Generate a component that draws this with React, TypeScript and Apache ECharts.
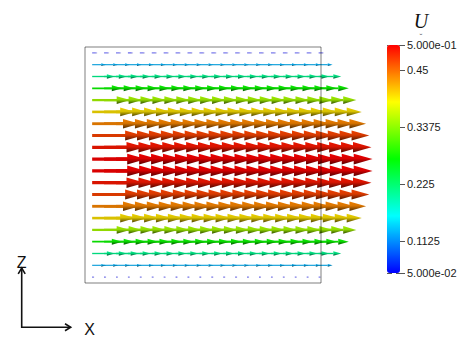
import React, { useEffect, useRef } from "react";
import * as echarts from "echarts";

// Seed columns (streamwise positions) and rows (transverse positions, top to bottom)
const SEED_COLUMNS = [0, 1, 2, 3, 4, 5, 6, 7, 8, 9, 10, 11, 12, 13, 14, 15, 16, 17, 18, 19];
const SEED_ROWS = [0, 1, 2, 3, 4, 5, 6, 7, 8, 9, 10, 11, 12, 13, 14, 15, 16, 17, 18, 19];
// Velocity magnitude U for each row (top to bottom)
const ROW_U = [0.05, 0.13, 0.21, 0.28, 0.35, 0.4, 0.44, 0.47, 0.49, 0.5, 0.5, 0.49, 0.47, 0.44, 0.4, 0.35, 0.28, 0.21, 0.13, 0.02];
// Colour bar
const U_MIN = 0.05;
const U_MAX = 0.5;
const COLORBAR_TICKS = [0.05, 0.1125, 0.225, 0.3375, 0.45, 0.5];
const COLORBAR_LABELS = ["5.000e-02", "0.1125", "0.225", "0.3375", "0.45", "5.000e-01"];
const RAINBOW = ["#0000ff", "#00ffff", "#00ff00", "#ffff00", "#ff0000"];

const GLYPH_SCALE = 9.05; // x-units of glyph length per unit of U

function shade(c: string, f: number): string {
  const a = echarts.color.parse(c) || [0, 0, 0, 1];
  return `rgba(${Math.round(a[0] * f)},${Math.round(a[1] * f)},${Math.round(a[2] * f)},${a[3] ?? 1})`;
}

export default function App() {
  const ref = useRef<HTMLDivElement>(null);
  useEffect(() => {
    if (!ref.current) return;
    const chart = echarts.init(ref.current, undefined, { renderer: "svg" });
    const data: number[][] = [];
    SEED_ROWS.forEach((r) => {
      SEED_COLUMNS.forEach((c) => {
        data.push([c, r, ROW_U[r]]);
      });
    });

    const shaftRender = (params: any, api: any) => {
      const x = api.value(0), y = api.value(1), u = api.value(2);
      const p0 = api.coord([x, y]);
      const p1 = api.coord([x + u * GLYPH_SCALE, y]);
      const L = p1[0] - p0[0];
      const h = Math.max(0.06 * L, 1.1);
      const c = api.visual("color");
      return {
        type: "rect",
        shape: { x: p0[0], y: p0[1] - h / 2, width: 0.65 * L, height: h },
        style: { fill: shade(c, 0.85), opacity: L < 8 ? 0.6 : 1 },
      };
    };
    const headRender = (params: any, api: any) => {
      const x = api.value(0), y = api.value(1), u = api.value(2);
      const p0 = api.coord([x, y]);
      const p1 = api.coord([x + u * GLYPH_SCALE, y]);
      const L = p1[0] - p0[0];
      const r = Math.max(0.1 * L, 0.7);
      const bx = p0[0] + 0.65 * L;
      const c = api.visual("color");
      return {
        type: "polygon",
        shape: { points: [[bx, p0[1] - r], [p1[0], p0[1]], [bx, p0[1] + r]] },
        style: {
          opacity: L < 8 ? 0.6 : 1,
          fill: new echarts.graphic.LinearGradient(0, 0, 0, 1, [
            { offset: 0, color: shade(c, 0.92) },
            { offset: 0.45, color: shade(c, 0.85) },
            { offset: 1, color: shade(c, 0.3) },
          ]),
        },
      };
    };

    const option: any = {
      animation: false,
      grid: [
        { left: 85, top: 47, width: 236, height: 236, show: true, z: 10, backgroundColor: "transparent", borderColor: "rgba(0,0,0,0.5)", borderWidth: 1 },
        { left: 387, top: 45, width: 13, height: 228 },
      ],
      xAxis: [
        { type: "value", gridIndex: 0, min: -0.6, max: 19.2, show: false },
        { type: "value", gridIndex: 1, min: 0, max: 1, show: false },
      ],
      yAxis: [
        { type: "value", gridIndex: 0, min: -0.5, max: 19.5, inverse: true, show: false },
        {
          type: "value", gridIndex: 1, min: U_MIN, max: U_MAX, interval: 0.0125, position: "right",
          axisLine: { show: false }, splitLine: { show: false },
          axisTick: { show: true, length: 5, lineStyle: { color: "#555", width: 1 } },
          axisLabel: {
            show: true, margin: 7, fontSize: 11, color: "#1a1a1a", fontFamily: "Liberation Sans, Arial, sans-serif",
            showMinLabel: true, showMaxLabel: true,
            formatter: (v: number) => {
              const i = COLORBAR_TICKS.findIndex((t) => Math.abs(t - v) < 1e-6);
              return i >= 0 ? COLORBAR_LABELS[i] : "";
            },
          },
        },
        {
          type: "value", gridIndex: 1, min: U_MIN, max: U_MAX, position: "right", offset: -4,
          axisLine: { show: false }, splitLine: { show: false },
          axisTick: { show: true, length: 9, customValues: COLORBAR_TICKS, lineStyle: { color: "#555", width: 1 } },
          axisLabel: { show: false },
        },
      ],
      visualMap: {
        type: "continuous", min: U_MIN, max: U_MAX, dimension: 2, seriesIndex: [0, 1],
        inRange: { color: RAINBOW }, show: true, left: 387, top: 45, itemWidth: 13, itemHeight: 228,
        calculable: false, padding: 0, hoverLink: false, z: 1,
      },
      series: [
        { type: "custom", xAxisIndex: 0, yAxisIndex: 0, data, renderItem: shaftRender, clip: false, z: 2, silent: true },
        { type: "custom", xAxisIndex: 0, yAxisIndex: 0, data, renderItem: headRender, clip: false, z: 3, silent: true },
      ],
      graphic: [
        { type: "text", x: 421, y: 21, style: { text: "U", font: "italic 20px 'Liberation Serif', 'DejaVu Serif', serif", fill: "#111", align: "center", verticalAlign: "middle" } },
        { type: "text", x: 421, y: 36, style: { text: "˘", font: "8px 'Liberation Sans', sans-serif", fill: "#555", align: "center", verticalAlign: "middle" } },
        { type: "polyline", shape: { points: [[21.7, 268], [21.7, 327.3], [70.5, 327.3]] }, style: { stroke: "#111", lineWidth: 1.6, fill: "none" } },
        { type: "polyline", shape: { points: [[18.2, 273.8], [21.7, 268], [25.2, 273.8]] }, style: { stroke: "#111", lineWidth: 1.6, fill: "none" } },
        { type: "polyline", shape: { points: [[65, 323.8], [70.7, 327.3], [65, 330.8]] }, style: { stroke: "#111", lineWidth: 1.6, fill: "none" } },
        { type: "text", x: 21.7, y: 262.5, style: { text: "Z", font: "16px 'Liberation Sans', Arial, sans-serif", fill: "#111", align: "center", verticalAlign: "middle" } },
        { type: "text", x: 89.5, y: 329.5, style: { text: "X", font: "16px 'Liberation Sans', Arial, sans-serif", fill: "#111", align: "center", verticalAlign: "middle" } },
      ],
    };
    chart.setOption(option);
    return () => chart.dispose();
  }, []);
  return <div ref={ref} style={{ position: "absolute", left: 0, top: 0, width: 466, height: 360, background: "#fff" }} />;
}
